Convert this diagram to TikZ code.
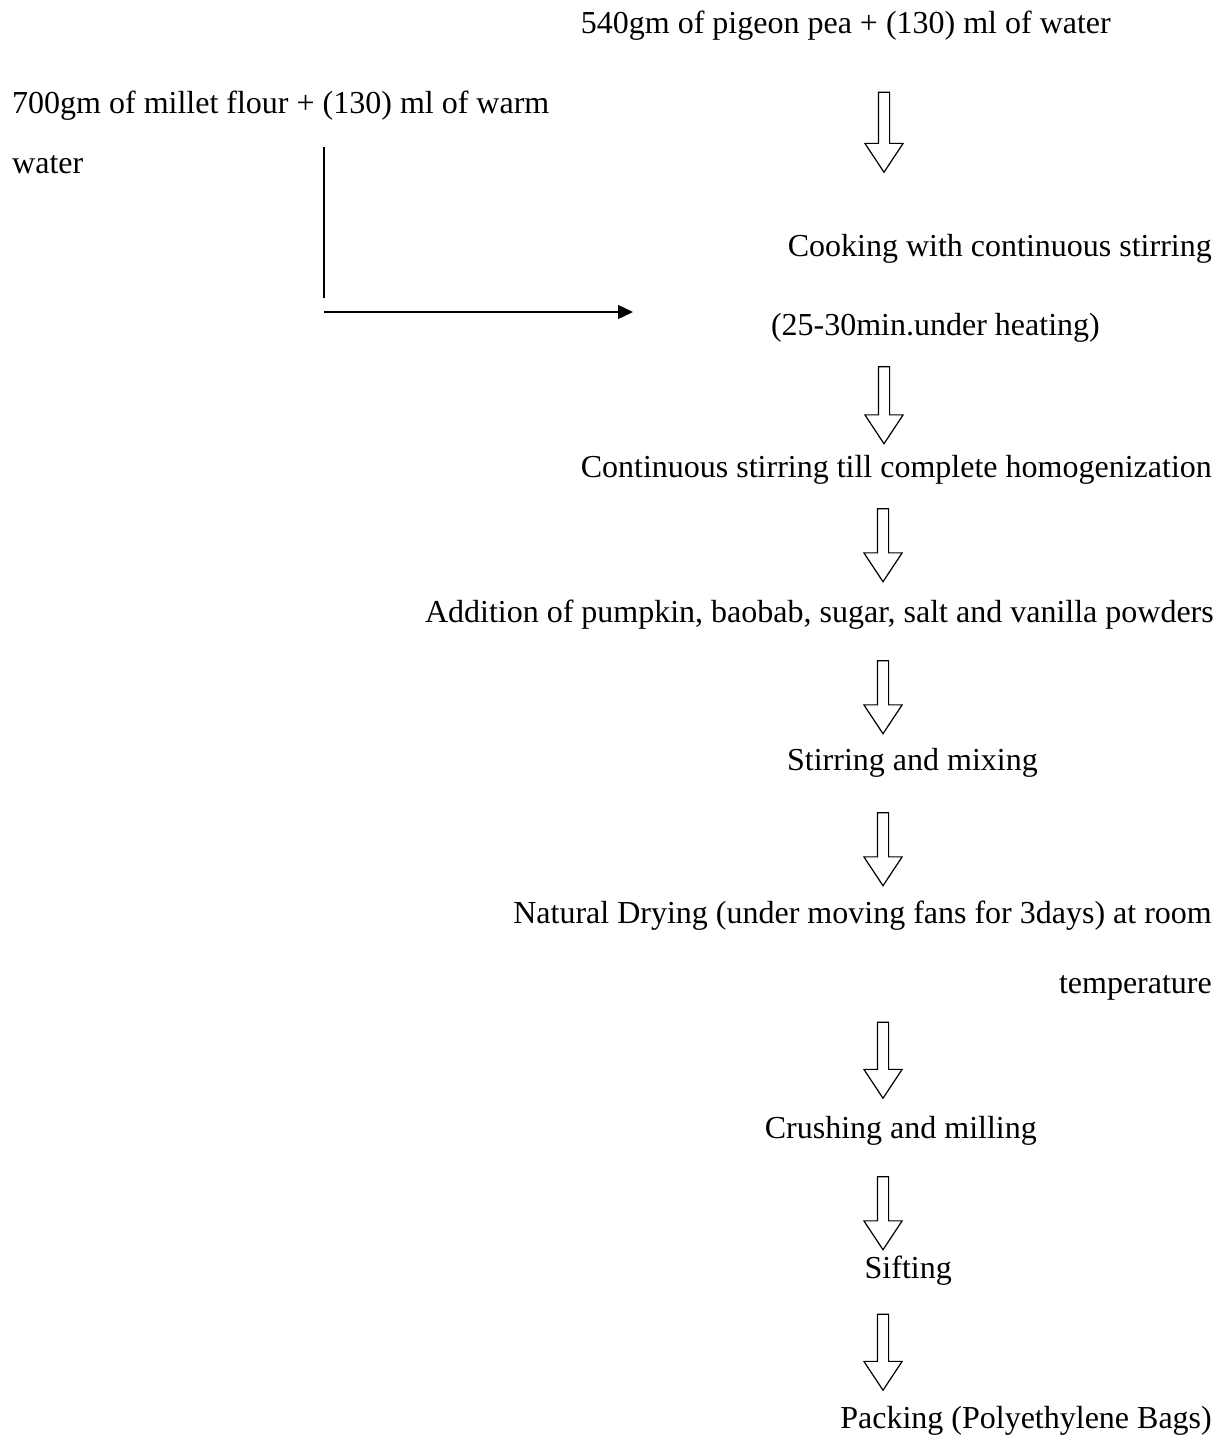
\documentclass[tikz,border=0pt]{standalone}
\usepackage{fontspec}
\setmainfont{Liberation Serif}
\usepackage{tikz}
\usetikzlibrary{
  arrows.meta,
  positioning,
  shapes.arrows
}

\begin{document}
\begin{tikzpicture}[
  x=1pt, y=-1pt,
  stage/.style={font=\fontsize{32}{38}\selectfont, inner sep=0pt, anchor=base east},
  lstage/.style={font=\fontsize{32}{38}\selectfont, inner sep=0pt, anchor=base west},
  down/.style={draw, line width=1.2pt, single arrow, shape border rotate=270,
               minimum height=#1, minimum width=37pt, inner sep=5pt,
               single arrow head extend=13.5pt, single arrow tip angle=67},
  feed/.style={line width=1.3pt},
]
  \useasboundingbox (0,0) rectangle (1228,1441);

  \node[stage] (pea)   at (1111,33)   {540gm of pigeon pea + (130) ml of water};
  \node[lstage] (millet) at (12,113)  {700gm of millet flour + (130) ml of warm};
  \node[lstage] (water)  at (12,173)  {water};

  \node[stage] (cook)  at (1212,256)  {Cooking with continuous stirring};
  \node[stage] (heat)  at (1100,335)  {(25-30min.under heating)};
  \node[stage] (homog) at (1212,477)  {Continuous stirring till complete homogenization};
  \node[stage] (add)   at (1214,622)  {Addition of pumpkin, baobab, sugar, salt and vanilla powders};
  \node[stage] (mix)   at (1038,770)  {Stirring and mixing};
  \node[stage] (dry)   at (1212,923)  {Natural Drying (under moving fans for 3days) at room};
  \node[stage] (temp)  at (1212,993)  {temperature};
  \node[stage] (mill)  at (1037,1138) {Crushing and milling};
  \node[stage] (sift)  at (952,1278)  {Sifting};
  \node[stage] (pack)  at (1212,1428) {Packing (Polyethylene Bags)};

  % hollow arrows between the stages
  \node[down=80pt] (a1) at (884,128)  {};
  \node[down=77pt] (a2) at (884,401)  {};
  \node[down=73pt] (a3) at (883,541)  {};
  \node[down=73pt] (a4) at (883,693)  {};
  \node[down=73pt] (a5) at (883,845)  {};
  \node[down=76pt] (a6) at (883,1056) {};
  \node[down=73pt] (a7) at (883,1209) {};
  \node[down=76pt] (a8) at (883,1348) {};

  % millet feed joining the cooking stage
  \coordinate (ftop) at (324,147);
  \coordinate (fbot) at (324,298);
  \coordinate (fstart) at (324,312);
  \coordinate (fend) at (633,312);
  \draw[feed] (ftop) -- (fbot);
  \draw[feed, -{Triangle[length=15pt,width=14pt]}] (fstart) -- (fend);
\end{tikzpicture}
\end{document}
